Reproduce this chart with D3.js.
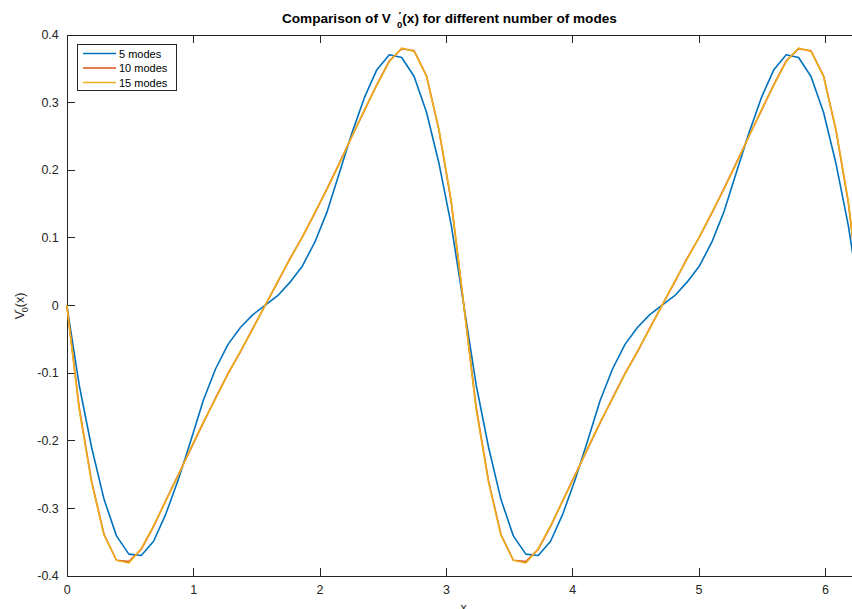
<!DOCTYPE html>
<html>
<head>
<meta charset="utf-8">
<script src="https://d3js.org/d3.v7.min.js"></script>
<style>
  body { margin: 0; background: #fff; }
  svg { display: block; font-family: "Liberation Sans", Arial, sans-serif; }
  .axis path, .axis line { stroke: #262626; shape-rendering: crispEdges; }
  .axis text { fill: #262626; font-size: 12.5px; font-family: "Liberation Sans", Arial, sans-serif; }
</style>
</head>
<body>
<div id="chart"></div>
<script>
// sample positions (x), two periods of 2*pi
const xs = [0.000, 0.098, 0.196, 0.295, 0.393, 0.491, 0.589, 0.687, 0.785, 0.884, 0.982, 1.080, 1.178,
  1.276, 1.374, 1.473, 1.571, 1.669, 1.767, 1.865, 1.963, 2.062, 2.160, 2.258, 2.356, 2.454, 2.553,
  2.651, 2.749, 2.847, 2.945, 3.043, 3.142, 3.240, 3.338, 3.436, 3.534, 3.633, 3.731, 3.829, 3.927,
  4.025, 4.123, 4.221, 4.320, 4.418, 4.516, 4.614, 4.712, 4.811, 4.909, 5.007, 5.105, 5.203, 5.301,
  5.400, 5.498, 5.596, 5.694, 5.792, 5.890, 5.989, 6.087, 6.185, 6.283];

const modes5 = [0, -0.118, -0.210, -0.287, -0.341, -0.368, -0.370, -0.349, -0.308, -0.257, -0.200, -0.141, -0.094,
  -0.058, -0.033, -0.014, 0, 0.014, 0.034, 0.058, 0.093, 0.139, 0.197, 0.255, 0.307, 0.348, 0.370,
  0.366, 0.338, 0.285, 0.210, 0.118, 0, -0.118, -0.210, -0.287, -0.341, -0.368, -0.370, -0.349, -0.308,
  -0.257, -0.200, -0.141, -0.094, -0.058, -0.033, -0.014, 0, 0.014, 0.034, 0.058, 0.093, 0.139, 0.197,
  0.255, 0.307, 0.348, 0.370, 0.366, 0.338, 0.285, 0.210, 0.118, 0];

const modes10 = [0, -0.151, -0.260, -0.339, -0.377, -0.379, -0.361, -0.327, -0.288, -0.250, -0.212, -0.174, -0.137,
  -0.101, -0.069, -0.034, 0, 0.034, 0.069, 0.101, 0.136, 0.173, 0.211, 0.250, 0.288, 0.326, 0.361,
  0.379, 0.376, 0.339, 0.259, 0.152, 0, -0.151, -0.260, -0.339, -0.377, -0.379, -0.361, -0.327, -0.288,
  -0.250, -0.212, -0.174, -0.137, -0.101, -0.069, -0.034, 0, 0.034, 0.069, 0.101, 0.136, 0.173, 0.211,
  0.250, 0.288, 0.326, 0.361, 0.379, 0.376, 0.339, 0.259, 0.152, 0];

const modes15 = [0, -0.154, -0.262, -0.340, -0.377, -0.381, -0.360, -0.326, -0.289, -0.251, -0.211, -0.173, -0.138,
  -0.102, -0.068, -0.035, 0, 0.035, 0.068, 0.101, 0.137, 0.172, 0.210, 0.250, 0.289, 0.325, 0.360,
  0.380, 0.375, 0.338, 0.260, 0.154, 0, -0.154, -0.262, -0.340, -0.377, -0.381, -0.360, -0.326, -0.289,
  -0.251, -0.211, -0.173, -0.138, -0.102, -0.068, -0.035, 0, 0.035, 0.068, 0.101, 0.137, 0.172, 0.210,
  0.250, 0.289, 0.325, 0.360, 0.380, 0.375, 0.338, 0.260, 0.154, 0];

const seriesNames = ["5 modes", "10 modes", "15 modes"];
const seriesColors = ["#0072BD", "#D95319", "#EDB120"];
const xTicks = [0, 1, 2, 3, 4, 5, 6];
const yTicks = [-0.4, -0.3, -0.2, -0.1, 0, 0.1, 0.2, 0.3, 0.4];

const width = 852, height = 609;
const axLeft = 66.8, axTop = 34.5, axBottom = 575.8;
const axRight = axLeft + 126.35 * 2 * Math.PI;   // axes run past the window edge

const svg = d3.select("#chart").append("svg")
  .attr("width", width).attr("height", height);

const x = d3.scaleLinear().domain([0, 2 * Math.PI]).range([axLeft, axRight]);
const y = d3.scaleLinear().domain([-0.4, 0.4]).range([axBottom, axTop]);

const fmt = d => d === 0 ? "0" : String(+d.toFixed(1));

// mirrored axes, ticks pointing inward
svg.append("g").attr("class", "axis")
  .attr("transform", `translate(0,${axBottom})`)
  .call(d3.axisBottom(x).tickValues(xTicks).tickSizeInner(-8).tickSizeOuter(0).tickPadding(9).tickFormat(d3.format("d")));
svg.append("g").attr("class", "axis")
  .attr("transform", `translate(0,${axTop})`)
  .call(d3.axisTop(x).tickValues(xTicks).tickSizeInner(-8).tickSizeOuter(0).tickFormat(""));
svg.append("g").attr("class", "axis")
  .attr("transform", `translate(${axLeft},0)`)
  .call(d3.axisLeft(y).tickValues(yTicks).tickSizeInner(-8).tickSizeOuter(0).tickPadding(8).tickFormat(fmt));
svg.append("g").attr("class", "axis")
  .attr("transform", `translate(${axRight},0)`)
  .call(d3.axisRight(y).tickValues(yTicks).tickSizeInner(-8).tickSizeOuter(0).tickFormat(""));

// curves
const line = d3.line().x((d, i) => x(xs[i])).y(d => y(d));
[modes5, modes10, modes15].forEach((vals, k) => {
  svg.append("path")
    .datum(vals)
    .attr("fill", "none")
    .attr("stroke", seriesColors[k])
    .attr("stroke-width", 1.6)
    .attr("stroke-linejoin", "round")
    .attr("d", line);
});

// title
const title = svg.append("text")
  .attr("x", 282).attr("y", 23)
  .attr("font-size", 13.6).attr("font-weight", "bold").attr("fill", "#000");
title.append("tspan").text("Comparison of V");
title.append("tspan").attr("dx", 8).attr("dy", -5).attr("font-size", 9.5).text("′");
title.append("tspan").attr("dx", -4).attr("dy", 10).attr("font-size", 9.5).text("0");
title.append("tspan").attr("dy", -5).text("(x) for different number of modes");

// y label
const ylab = svg.append("text")
  .attr("transform", "translate(24,306) rotate(-90)")
  .attr("text-anchor", "middle")
  .attr("font-size", 12.5).attr("fill", "#262626");
ylab.append("tspan").text("V");
ylab.append("tspan").attr("dy", -4).attr("font-size", 9).text("′");
ylab.append("tspan").attr("dx", -3).attr("dy", 8).attr("font-size", 9).text("0");
ylab.append("tspan").attr("dy", -4).text("(x)");

// x label (cut by the window, as in the original)
svg.append("text")
  .attr("x", (axLeft + axRight) / 2).attr("y", 612)
  .attr("text-anchor", "middle").attr("font-size", 12.5).attr("fill", "#262626")
  .text("x");

// legend
const lg = svg.append("g");
lg.append("rect")
  .attr("x", 77.5).attr("y", 44.5).attr("width", 99).attr("height", 46)
  .attr("fill", "#fff").attr("stroke", "#262626").attr("stroke-width", 1);
seriesNames.forEach((name, i) => {
  const yy = 53.5 + i * 14.5;
  lg.append("line")
    .attr("x1", 83).attr("x2", 116).attr("y1", yy).attr("y2", yy)
    .attr("stroke", seriesColors[i]).attr("stroke-width", 1.6);
  lg.append("text")
    .attr("x", 119).attr("y", yy + 4)
    .attr("font-size", 11).attr("fill", "#000")
    .text(name);
});
</script>
</body>
</html>
